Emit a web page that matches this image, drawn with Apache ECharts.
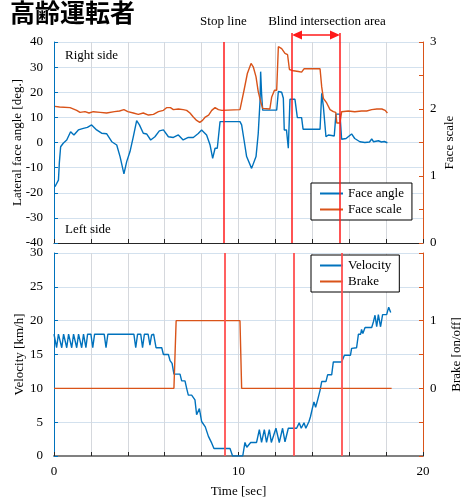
<!DOCTYPE html>
<html><head><meta charset="utf-8">
<script src="https://cdn.jsdelivr.net/npm/echarts@6/dist/echarts.min.js"></script>
<style>html,body{margin:0;padding:0;background:#fff;overflow:hidden}#c{width:461px;height:503px}</style>
</head><body><div id="c"></div><script>
// ---- data ----
const faceAngleT = [0.05,0.24,0.29,0.36,0.5,0.69,0.9,1.08,1.32,1.59,1.81,2.04,2.31,2.58,2.85,3.13,3.4,3.58,3.79,3.94,4.12,4.3,4.48,4.63,4.84,5.02,5.24,5.47,5.71,5.93,6.2,6.47,6.74,7.0,7.28,7.55,7.82,8.0,8.27,8.46,8.6,8.73,8.85,9.0,10.08,10.17,10.3,10.44,10.53,10.71,10.8,10.95,11.07,11.17,11.2,11.25,11.31,12.07,12.16,12.34,12.43,12.48,12.6,12.7,12.79,13.06,13.15,13.19,13.42,13.5,14.42,14.51,14.6,14.74,14.87,14.96,15.05,15.19,15.28,15.5,15.59,15.83,16.13,16.3,16.58,16.85,17.1,17.22,17.32,17.58,17.75,17.9,18.07];
const faceAngleV = [-17.6,-15,-8,-1.7,-0.3,1,4.3,3,5,5.6,6,7,5,3.7,3.5,0.3,-1,-5.6,-12.5,-7.6,-3.6,2.3,8.7,7,3.7,3.4,1,2.3,4.6,5,2.3,2,3,1,2,2,3.6,5,3,-1,-6.3,-2.3,-2.3,8.3,8.3,7,1,-5.6,-5.7,-10.3,-10.3,-5.6,3.6,17,28.2,19.6,12.9,12.9,20.3,20,17.6,5,5,-2.3,17.2,17.2,17,9.9,9.9,5.3,5.3,19.6,14.3,2.3,3,2.3,2.8,2.6,11.3,11.3,1.3,1.6,3.4,1.6,0.3,0,0.2,1.4,0.3,0.7,0.2,0.4,-0.1];
const faceScaleT = [0.05,0.3,0.87,1.23,1.41,1.68,1.9,2.13,2.5,2.85,3.28,3.55,3.79,4.0,4.3,4.57,4.84,5.12,5.39,5.66,5.93,6.1,6.31,6.47,6.74,7.0,7.19,7.37,7.55,7.73,7.9,8.05,8.2,8.38,8.55,8.73,8.91,9.1,10.08,10.3,10.48,10.68,10.8,10.95,11.07,11.2,11.31,11.7,11.8,11.95,12.07,12.16,12.34,12.52,12.66,12.76,12.98,13.25,13.42,13.55,14.42,14.51,14.6,14.78,14.96,15.14,15.27,15.33,15.5,15.59,15.68,15.95,16.3,16.67,16.95,17.22,17.5,17.77,17.95,18.07];
const faceScaleV = [2.04,2.03,2.02,1.98,1.95,1.96,1.94,1.96,1.95,1.94,1.96,1.97,1.99,1.96,1.94,1.92,1.94,1.91,1.92,1.96,1.98,2.02,2.02,1.99,2.0,1.99,1.98,1.94,1.88,1.83,1.80,1.83,1.88,1.91,1.98,2.02,1.99,1.98,1.99,2.28,2.53,2.68,2.63,2.48,2.26,2.11,2.01,2.0,2.18,2.28,2.28,2.93,2.9,2.83,2.81,2.59,2.57,2.56,2.55,2.6,2.6,2.33,2.16,2.09,1.99,1.96,1.95,1.79,1.79,1.96,1.97,1.97,1.96,1.97,1.97,1.99,2.0,2.0,1.98,1.94];
const velocityT = [0,0.1,0.14,0.24,0.33,0.42,0.52,0.6,0.69,0.79,0.87,0.96,1.06,1.14,1.23,1.33,1.41,1.5,1.6,1.66,1.73,1.82,2.0,2.1,2.2,2.72,2.82,2.92,4.33,4.43,4.53,4.7,4.8,4.9,5.1,5.2,5.29,5.4,5.53,5.84,5.93,6.2,6.29,6.4,6.5,6.83,6.92,7.1,7.19,7.28,7.46,7.64,7.73,7.88,8.0,8.2,8.37,8.55,8.67,9.54,9.68,10.23,10.35,10.45,10.66,10.98,11.13,11.25,11.4,11.52,11.67,11.78,11.85,12.03,12.21,12.39,12.52,12.7,13.15,13.29,13.4,13.55,13.65,13.82,13.9,14.0,14.09,14.18,14.29,14.42,14.51,14.74,14.83,15.05,15.14,15.59,15.74,16.07,16.13,16.4,16.5,16.62,16.67,16.74,16.86,17.22,17.31,17.4,17.49,17.58,17.7,17.81,18.03,18.14,18.25];
const velocityV = [18,18,16,18,18,16,18,18,16,18,18,16,18,18,16,18,18,16,18,18,16,18,18,16,18,18,16,18,18,16,18,18,16,18,18,16.4,17.9,18,16,16,15,15,14.1,13.7,12.1,12.1,11.1,11.1,10,9,9,8.3,6.1,7,5.1,4.3,2.9,1.9,1.1,1.1,0,0,2,1.3,2,2,3.9,2,3.9,2,3.9,2,2.1,4.1,2,4.1,2.1,4.1,4.1,4.9,4.1,4.9,4.1,5.1,5.8,7.0,8.0,7.2,8.3,9.7,11,11,12,12,13.9,13.9,14.9,14.9,15.9,16,18,18,18.7,18.1,19,19,19.8,20.8,19.1,20.9,19.1,20.9,20.9,22,21.2];
const brakeT = [0,6.5,6.62,10.08,10.17,18.3];
const brakeV = [0,0,1,1,0,0];
const stopLineTop = [9.18];
const blindTop = [12.9, 15.5];
const eventsBottom = [9.27, 12.99, 15.61];
const legendTop = ['Face angle','Face scale'];
const legendBottom = ['Velocity','Brake'];

const BLUE = '#0072BD', ORANGE = '#D95319', RED = '#FF1A1A';
const SERIF = 'Liberation Serif';
const zip = (t, v) => t.map((x, i) => [x, v[i]]);

const chart = echarts.init(document.getElementById('c'), null, {renderer: 'canvas'});
const gridH = '#d3e1ee', gridV = '#d5d8dd';
const lab = {color:'#000', fontFamily: SERIF, fontSize: 13};
const nameSty = {color:'#000', fontFamily: SERIF, fontSize: 13};

function xAx(gi, showLabels) {
  return {
    gridIndex: gi, type: 'value', min: 0, max: 20, interval: 2,
    axisLine: {show: true, onZero: false, lineStyle: {color: gi ? '#808080' : '#262626', width: gi ? 2 : 1}},
    axisTick: {show: true, inside: true, length: 4, lineStyle: {color: '#262626'}},
    axisLabel: {show: showLabels, ...lab, margin: 9, formatter: v => (v % 10 === 0 ? String(v) : '')},
    splitLine: {show: true, lineStyle: {color: gridV, width: 1}},
    name: showLabels ? 'Time [sec]' : '', nameLocation: 'middle', nameGap: 29, nameTextStyle: nameSty,
    nameMoveOverlap: false
  };
}
function yAx(gi, pos, min, max, interval, color, name, gap, fmt, split) {
  return {
    gridIndex: gi, type: 'value', position: pos, min, max, interval,
    axisLine: {show: true, onZero: false, lineStyle: {color, width: 1}},
    axisTick: {show: true, inside: true, length: 4, lineStyle: {color}},
    axisLabel: {...lab, margin: pos === 'left' ? 11 : 7, formatter: fmt},
    splitLine: {show: split, lineStyle: {color: gridH, width: 1}},
    name, nameLocation: 'middle', nameRotate: 90, nameGap: gap, nameTextStyle: nameSty,
    nameMoveOverlap: false
  };
}

const option = {
  backgroundColor: '#fff',
  animation: false,
  textStyle: {fontFamily: SERIF},
  grid: [
    {left: 54, top: 42, width: 369, height: 201, outerBoundsMode: 'none', containLabel: false},
    {left: 54, top: 253, width: 369, height: 203, outerBoundsMode: 'none', containLabel: false}
  ],
  xAxis: [xAx(0, false), xAx(1, true)],
  yAxis: [
    yAx(0, 'left', -40, 40, 10, BLUE, 'Lateral face angle [deg.]', 30, v => String(v), true),
    yAx(0, 'right', 0, 3, 0.5, ORANGE, 'Face scale', 20, v => (Number.isInteger(v) ? String(v) : ''), false),
    yAx(1, 'left', 0, 30, 5, BLUE, 'Velocity [km/h]', 28, v => String(v), true),
    yAx(1, 'right', -1, 2, 0.5, ORANGE, 'Brake [on/off]', 27, v => (v === 0 || v === 1 ? String(v) : ''), false)
  ],
  legend: [
    {data: legendTop, orient: 'vertical', left: 311, top: 183, padding: [4, 8, 4, 9], itemGap: 3,
     itemWidth: 23, itemHeight: 2, icon: 'rect', borderColor: '#000', borderWidth: 1, backgroundColor: '#fff',
     textStyle: {color: '#000', fontFamily: SERIF, fontSize: 13}},
    {data: legendBottom, orient: 'vertical', left: 311, top: 255, padding: [4, 8, 4, 9], itemGap: 3,
     itemWidth: 23, itemHeight: 2, icon: 'rect', borderColor: '#000', borderWidth: 1, backgroundColor: '#fff',
     textStyle: {color: '#000', fontFamily: SERIF, fontSize: 13}}
  ],
  series: [
    {name: 'Face angle', type: 'line', xAxisIndex: 0, yAxisIndex: 0, data: zip(faceAngleT, faceAngleV),
     showSymbol: false, color: BLUE, lineStyle: {width: 1.4}},
    {name: 'Face scale', type: 'line', xAxisIndex: 0, yAxisIndex: 1, data: zip(faceScaleT, faceScaleV),
     showSymbol: false, color: ORANGE, lineStyle: {width: 1.4},
     markLine: {silent: true, symbol: 'none', label: {show: false}, lineStyle: {color: RED, width: 1.5, type: 'solid'},
       data: stopLineTop.concat(blindTop).map(t => ({xAxis: t}))}},
    {name: 'Velocity', type: 'line', xAxisIndex: 1, yAxisIndex: 2, data: zip(velocityT, velocityV),
     showSymbol: false, color: BLUE, lineStyle: {width: 1.4}},
    {name: 'Brake', type: 'line', xAxisIndex: 1, yAxisIndex: 3, data: zip(brakeT, brakeV),
     showSymbol: false, color: ORANGE, lineStyle: {width: 1.4},
     markLine: {silent: true, symbol: 'none', label: {show: false}, lineStyle: {color: '#FF5050', width: 1.8, type: 'solid'},
       data: eventsBottom.map(t => ({xAxis: t}))}}
  ]
};
chart.setOption(option);

// annotations positioned through the axis scales
const xa = chart.convertToPixel({xAxisIndex: 0}, blindTop[0]);
const xb = chart.convertToPixel({xAxisIndex: 0}, blindTop[1]);
const xs = chart.convertToPixel({xAxisIndex: 0}, stopLineTop[0]);
const topY = chart.convertToPixel({yAxisIndex: 0}, 40);
const ay = topY - 7;
const g = [
  {type: 'text', left: 10, top: 0, style: {text: '高齢運転者', font: 'bold 25px "Noto Sans CJK JP"', fill: '#000'}},
  {type: 'text', x: xs, y: 22, style: {text: 'Stop line', font: '13px "Liberation Serif"', fill: '#000', align: 'center', verticalAlign: 'middle'}},
  {type: 'text', x: (xa + xb) / 2 + 11, y: 22, style: {text: 'Blind intersection area', font: '13px "Liberation Serif"', fill: '#000', align: 'center', verticalAlign: 'middle'}},
  {type: 'line', shape: {x1: xa + 8, y1: ay, x2: xb - 8, y2: ay}, style: {stroke: RED, lineWidth: 1.5}},
  {type: 'polygon', shape: {points: [[xa, ay], [xa + 10, ay - 4.5], [xa + 10, ay + 4.5]]}, style: {fill: RED}},
  {type: 'polygon', shape: {points: [[xb, ay], [xb - 10, ay - 4.5], [xb - 10, ay + 4.5]]}, style: {fill: RED}},
  {type: 'line', shape: {x1: xa, y1: ay - 2, x2: xa, y2: topY}, style: {stroke: RED, lineWidth: 1.5}},
  {type: 'line', shape: {x1: xb, y1: ay - 2, x2: xb, y2: topY}, style: {stroke: RED, lineWidth: 1.5}},
  {type: 'text', left: 65, top: 49, style: {text: 'Right side', font: '13px "Liberation Serif"', fill: '#000'}},
  {type: 'text', left: 65, top: 223, style: {text: 'Left side', font: '13px "Liberation Serif"', fill: '#000'}}
];
chart.setOption({graphic: g});
</script></body></html>
